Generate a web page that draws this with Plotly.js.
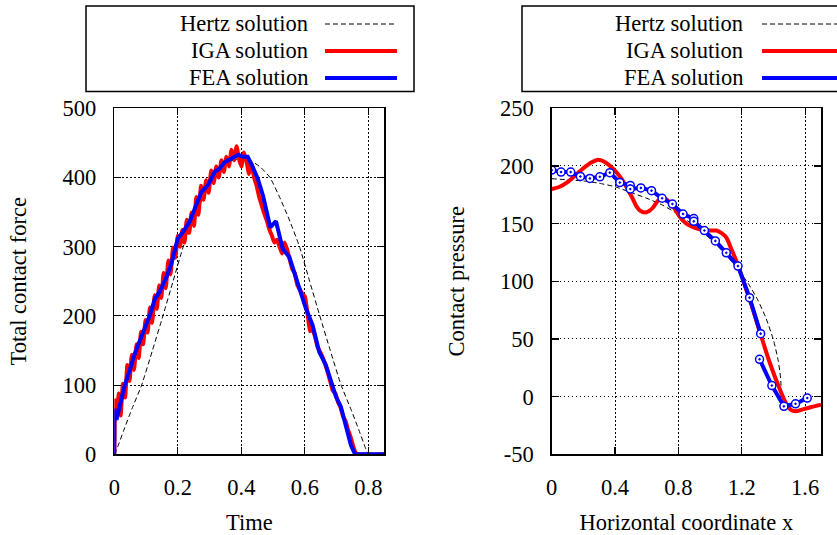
<!DOCTYPE html>
<html>
<head>
<meta charset="utf-8">
<script src="https://cdn.plot.ly/plotly-3.0.1.min.js"></script>
<style>html,body{margin:0;padding:0;background:#fff;}#chart{width:837px;height:535px;}</style>
</head>
<body>
<div id="chart"></div>
<script>
// ---------- Left panel: total contact force vs time ----------
const hertzTime = [0, 0.01, 0.03, 0.055, 0.086, 0.12, 0.153, 0.185, 0.217, 0.25, 0.28, 0.31, 0.34, 0.37, 0.40, 0.43, 0.46, 0.49, 0.52, 0.55, 0.583, 0.615, 0.647, 0.68, 0.714, 0.745, 0.77, 0.79, 0.80, 0.85];
const hertzForce = [0, 10, 35, 65, 100, 150, 200, 250, 300, 340, 372, 400, 415, 424, 427, 424, 415, 400, 372, 340, 300, 250, 200, 150, 100, 65, 35, 10, 0, 0];

const igaTime = [0, 0.003, 0.008, 0.014, 0.02, 0.027, 0.034, 0.041, 0.048, 0.055, 0.062, 0.07, 0.077, 0.084, 0.091, 0.098, 0.105, 0.112, 0.119, 0.127, 0.134, 0.141, 0.148, 0.155, 0.162, 0.17, 0.177, 0.185, 0.192, 0.2, 0.207, 0.214, 0.221, 0.228, 0.236, 0.243, 0.251, 0.258, 0.265, 0.273, 0.281, 0.289, 0.297, 0.305, 0.313, 0.321, 0.329, 0.337, 0.345, 0.353, 0.361, 0.369, 0.377, 0.385, 0.393, 0.40, 0.408, 0.416, 0.424, 0.432, 0.44, 0.448, 0.456, 0.464, 0.472, 0.48, 0.488, 0.496, 0.504, 0.512, 0.52, 0.528, 0.536, 0.544, 0.552, 0.56, 0.568, 0.576, 0.584, 0.592, 0.6, 0.608, 0.616, 0.624, 0.632, 0.64, 0.648, 0.656, 0.664, 0.672, 0.68, 0.688, 0.696, 0.704, 0.712, 0.72, 0.728, 0.736, 0.744, 0.752, 0.76, 0.765, 0.85];
const igaForce = [0, 78, 55, 88, 56, 102, 82, 129, 106, 144, 122, 159, 139, 177, 159, 194, 176, 212, 190, 230, 210, 244, 226, 262, 240, 280, 260, 299, 284, 316, 300, 324, 306, 339, 320, 349, 330, 372, 346, 388, 368, 396, 378, 410, 392, 416, 400, 425, 408, 430, 416, 440, 425, 445, 426, 416, 436, 424, 405, 420, 400, 388, 372, 360, 348, 338, 325, 316, 306, 310, 300, 290, 306, 296, 282, 268, 262, 245, 238, 232, 228, 205, 178, 180, 170, 155, 148, 140, 130, 118, 105, 92, 88, 76, 68, 55, 48, 35, 25, 12, 2, 0, 0];

const feaTime = [0, 0, 0.007, 0.018, 0.033, 0.049, 0.065, 0.081, 0.096, 0.112, 0.128, 0.143, 0.164, 0.18, 0.2, 0.216, 0.237, 0.258, 0.274, 0.295, 0.316, 0.332, 0.347, 0.368, 0.39, 0.405, 0.42, 0.436, 0.452, 0.468, 0.478, 0.491, 0.509, 0.52, 0.53, 0.551, 0.567, 0.583, 0.603, 0.624, 0.645, 0.666, 0.682, 0.698, 0.713, 0.729, 0.745, 0.758, 0.85];
const feaForce = [0, 66, 50, 71, 100, 122, 146, 165, 182, 201, 225, 235, 256, 276, 312, 321, 336, 360, 379, 389, 408, 413, 422, 427, 433, 430, 430, 415, 398, 374, 355, 328, 337, 316, 297, 285, 263, 240, 211, 187, 148, 129, 105, 83, 69, 42, 13, 0, 0];

// ---------- Right panel: contact pressure vs horizontal coordinate ----------
const hertzX = [0, 0.1, 0.2, 0.3, 0.4, 0.5, 0.6, 0.7, 0.8, 0.9, 1.0, 1.1, 1.2, 1.25, 1.3, 1.35, 1.4, 1.43, 1.445, 1.45];
const hertzP = [189, 188, 187, 185, 182, 177, 172, 166, 158, 148, 137, 123, 106, 96, 84, 69, 49, 31, 16, 0];

const igaX = [0, 0.05, 0.1, 0.15, 0.2, 0.25, 0.294, 0.34, 0.399, 0.44, 0.483, 0.51, 0.535, 0.56, 0.588, 0.615, 0.64, 0.672, 0.70, 0.724, 0.766, 0.808, 0.85, 0.892, 0.955, 1.0, 1.04, 1.07, 1.102, 1.134, 1.176, 1.218, 1.26, 1.312, 1.375, 1.438, 1.48, 1.51, 1.54, 1.585, 1.64, 1.7];
const igaP = [180, 182, 186, 192, 198, 203, 205.4, 203, 196, 189, 179, 172, 165, 161, 159.7, 161, 164, 170, 172, 171, 165, 156, 150, 147, 144.5, 144, 144, 142, 138, 128, 114, 97, 80, 57, 30, 7, -6, -11.5, -12.7, -11, -9, -7];

const feaX = [0, 0.059, 0.12, 0.181, 0.241, 0.304, 0.367, 0.43, 0.496, null, 0.496, 0.563, 0.63, 0.697, 0.762, 0.829, 0.897, null, 0.897, 0.964, 1.033, 1.102, 1.176, 1.249, 1.319, null, 1.312, 1.39, 1.466, 1.539, 1.613];
const feaP = [196.4, 194.7, 194.7, 190.9, 189.2, 190.6, 194.2, 185.6, 183.1, null, 180, 181, 178.6, 172, 167, 158.3, 154.4, null, 152, 144, 135, 124.7, 113.2, 85.8, 54.6, null, 32.4, 9.6, -8.4, -6.2, -1.2];

const pressureTicks = [-50, 0, 50, 100, 150, 200, 250];
const pressureTickText = ["-50", "0", "50", "100", "150", "200", "250"];

const legendNames = ["Hertz solution", "IGA solution", "FEA solution"];
const xTitles = ["Time", "Horizontal coordinate x"];
const yTitles = ["Total contact force", "Contact pressure"];

// ---------- styling ----------
const W = 837, H = 535;
const px = v => v / W;
const py = v => 1 - v / H;
const FONT = "Liberation Serif, Times New Roman, serif";
const FS = 22.5;
const hertzLine = {color: "black", width: 1, dash: "5px,3px"};
const igaLine = {color: "#ff0000", width: 4};
const feaLine = {color: "#0000ff", width: 4};

const traces = [
  {x: hertzTime, y: hertzForce, xaxis: "x", yaxis: "y", mode: "lines", name: legendNames[0], line: Object.assign({shape: "spline", smoothing: 0.5}, hertzLine)},
  {x: igaTime, y: igaForce, xaxis: "x", yaxis: "y", mode: "lines", name: legendNames[1], line: Object.assign({shape: "spline", smoothing: 0.4}, igaLine)},
  {x: feaTime, y: feaForce, xaxis: "x", yaxis: "y", mode: "lines", name: legendNames[2], line: feaLine},
  {x: hertzX, y: hertzP, xaxis: "x2", yaxis: "y2", mode: "lines", name: legendNames[0], line: Object.assign({shape: "spline", smoothing: 0.6}, hertzLine)},
  {x: igaX, y: igaP, xaxis: "x2", yaxis: "y2", mode: "lines", name: legendNames[1], line: Object.assign({shape: "spline", smoothing: 0.8}, igaLine)},
  {x: feaX, y: feaP, xaxis: "x2", yaxis: "y2", mode: "lines+markers", name: legendNames[2], connectgaps: false, line: feaLine,
   marker: {symbol: "circle-dot", size: 8, color: "white", line: {color: "#0000ff", width: 1.5}}}
];

function axisBase(extra) {
  return Object.assign({
    showline: true, linecolor: "black", linewidth: 1.5, mirror: "ticks",
    ticks: "inside", ticklen: 7, tickwidth: 1.2, tickcolor: "black",
    showgrid: true, gridcolor: "black", gridwidth: 1, griddash: "1.5px,2.5px",
    zeroline: false, fixedrange: true,
    tickfont: {family: FONT, size: FS, color: "black"}
  }, extra);
}
const titleFont = {family: FONT, size: FS, color: "black"};

const yDom = [py(454.3), py(108.3)];
const layout = {
  width: W, height: H,
  margin: {l: 0, r: 0, t: 0, b: 0},
  paper_bgcolor: "white", plot_bgcolor: "white",
  showlegend: false,
  font: {family: FONT, size: FS, color: "black"},
  xaxis: axisBase({domain: [px(114.3), px(384.3)], range: [0, 0.85], dtick: 0.2, tick0: 0, anchor: "y",
    ticklabelstandoff: 12, title: {text: xTitles[0], font: titleFont, standoff: 17}}),
  yaxis: axisBase({domain: yDom, range: [0, 500], dtick: 100, tick0: 0, anchor: "x",
    ticklabelstandoff: 12, title: {text: yTitles[0], font: titleFont, standoff: 29}}),
  xaxis2: axisBase({domain: [px(551.7), px(821)], range: [0, 1.7], dtick: 0.4, tick0: 0, anchor: "y2",
    ticklabelstandoff: 12, title: {text: xTitles[1], font: titleFont, standoff: 17}}),
  yaxis2: axisBase({domain: yDom, range: [-50, 250], tickmode: "array", tickvals: pressureTicks, ticktext: pressureTickText, anchor: "x2",
    ticklabelstandoff: 12, title: {text: yTitles[1], font: titleFont, standoff: 29}}),
  shapes: [],
  annotations: []
};

// gnuplot-style key boxes (text right-aligned, sample to the right)
const keys = [
  {box: [86, 414], textRight: 310, sample: [325, 397]},
  {box: [522, 860], textRight: 745, sample: [762, 860]}
];
const rowY = [24, 51, 78];
const rowLines = [hertzLine, igaLine, feaLine];
keys.forEach(k => {
  layout.shapes.push({type: "rect", xref: "paper", yref: "paper",
    x0: px(k.box[0]), x1: px(k.box[1]), y0: py(6), y1: py(91.5),
    line: {color: "black", width: 1.5}, fillcolor: "rgba(0,0,0,0)"});
  legendNames.forEach((name, i) => {
    layout.annotations.push({xref: "paper", yref: "paper", x: px(k.textRight), y: py(rowY[i] - 0.5),
      xanchor: "right", yanchor: "middle", showarrow: false, text: name,
      font: {family: FONT, size: FS, color: "black"}});
    layout.shapes.push({type: "line", xref: "paper", yref: "paper",
      x0: px(k.sample[0]), x1: px(k.sample[1]), y0: py(rowY[i]), y1: py(rowY[i]),
      line: {color: rowLines[i].color, width: rowLines[i].width, dash: rowLines[i].dash || "solid"}});
  });
});

Plotly.newPlot("chart", traces, layout, {staticPlot: true, displayModeBar: false});
</script>
</body>
</html>
